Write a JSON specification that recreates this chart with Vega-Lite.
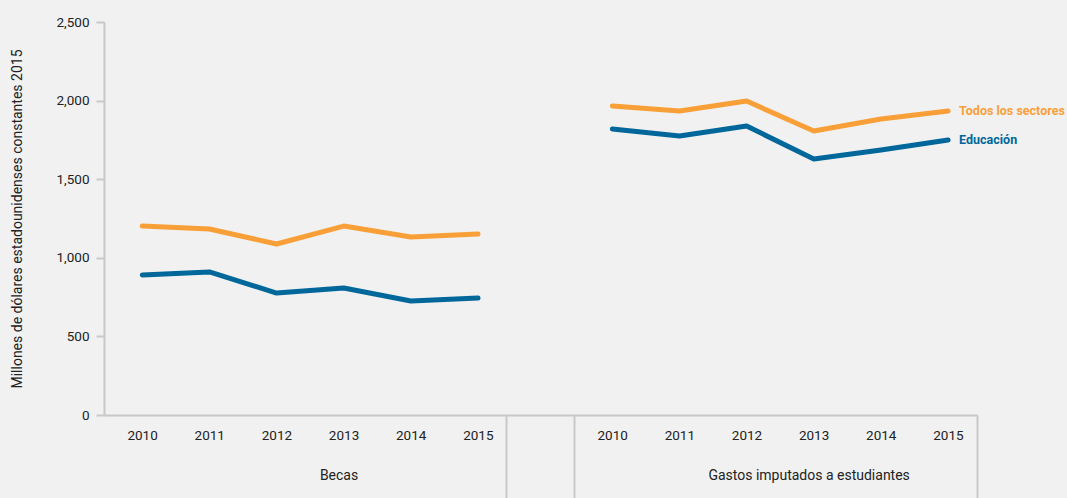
{
  "$schema": "https://vega.github.io/schema/vega-lite/v6.json",
  "width": 873,
  "height": 393,
  "autosize": {"type": "none"},
  "padding": {"left": 104, "top": 22, "right": 90, "bottom": 83},
  "background": "#f1f1f1",
  "config": {
    "view": {"stroke": null},
    "font": "Roboto",
    "axis": {"labelColor": "#222222", "titleColor": "#222222", "labelFontSize": 13.5, "titleFontSize": 14, "titleFontWeight": "normal", "labelOverlap": false, "labelFlush": false, "labelBound": false, "labelLimit": 400}
  },
  "data": {
    "values": [
      {"grupo": "Becas", "anio": "2010", "clave": "Becas 2010", "serie": "Todos los sectores", "valor": 1202},
      {"grupo": "Becas", "anio": "2011", "clave": "Becas 2011", "serie": "Todos los sectores", "valor": 1183},
      {"grupo": "Becas", "anio": "2012", "clave": "Becas 2012", "serie": "Todos los sectores", "valor": 1088},
      {"grupo": "Becas", "anio": "2013", "clave": "Becas 2013", "serie": "Todos los sectores", "valor": 1202},
      {"grupo": "Becas", "anio": "2014", "clave": "Becas 2014", "serie": "Todos los sectores", "valor": 1132},
      {"grupo": "Becas", "anio": "2015", "clave": "Becas 2015", "serie": "Todos los sectores", "valor": 1151},
      {"grupo": "Becas", "anio": "2010", "clave": "Becas 2010", "serie": "Educación", "valor": 891},
      {"grupo": "Becas", "anio": "2011", "clave": "Becas 2011", "serie": "Educación", "valor": 910},
      {"grupo": "Becas", "anio": "2012", "clave": "Becas 2012", "serie": "Educación", "valor": 776},
      {"grupo": "Becas", "anio": "2013", "clave": "Becas 2013", "serie": "Educación", "valor": 808},
      {"grupo": "Becas", "anio": "2014", "clave": "Becas 2014", "serie": "Educación", "valor": 725},
      {"grupo": "Becas", "anio": "2015", "clave": "Becas 2015", "serie": "Educación", "valor": 744},
      {"grupo": "Gastos", "anio": "2010", "clave": "Gastos 2010", "serie": "Todos los sectores", "valor": 1966},
      {"grupo": "Gastos", "anio": "2011", "clave": "Gastos 2011", "serie": "Todos los sectores", "valor": 1934},
      {"grupo": "Gastos", "anio": "2012", "clave": "Gastos 2012", "serie": "Todos los sectores", "valor": 1997},
      {"grupo": "Gastos", "anio": "2013", "clave": "Gastos 2013", "serie": "Todos los sectores", "valor": 1807},
      {"grupo": "Gastos", "anio": "2014", "clave": "Gastos 2014", "serie": "Todos los sectores", "valor": 1883},
      {"grupo": "Gastos", "anio": "2015", "clave": "Gastos 2015", "serie": "Todos los sectores", "valor": 1934},
      {"grupo": "Gastos", "anio": "2010", "clave": "Gastos 2010", "serie": "Educación", "valor": 1819},
      {"grupo": "Gastos", "anio": "2011", "clave": "Gastos 2011", "serie": "Educación", "valor": 1775},
      {"grupo": "Gastos", "anio": "2012", "clave": "Gastos 2012", "serie": "Educación", "valor": 1838},
      {"grupo": "Gastos", "anio": "2013", "clave": "Gastos 2013", "serie": "Educación", "valor": 1628},
      {"grupo": "Gastos", "anio": "2014", "clave": "Gastos 2014", "serie": "Educación", "valor": 1686},
      {"grupo": "Gastos", "anio": "2015", "clave": "Gastos 2015", "serie": "Educación", "valor": 1749}
    ]
  },
  "resolve": {"axis": {"x": "independent"}},
  "layer": [
    {
      "mark": {"type": "line", "strokeWidth": 5, "strokeCap": "round", "strokeJoin": "round"},
      "encoding": {
        "x": {
          "field": "clave", "type": "ordinal", "bandPosition": 0.57,
          "scale": {"type": "band", "paddingInner": 0, "paddingOuter": 0,
            "domain": ["Becas 2010", "Becas 2011", "Becas 2012", "Becas 2013", "Becas 2014", "Becas 2015", " ", "Gastos 2010", "Gastos 2011", "Gastos 2012", "Gastos 2013", "Gastos 2014", "Gastos 2015"]},
          "axis": {
            "orient": "bottom", "title": null, "labelOffset": 5,
            "labelExpr": "datum.value == ' ' ? '' : slice(datum.value, -4)", "labelAngle": 0, "labelPadding": 13,
            "ticks": false, "domain": true, "domainColor": "#c8c8c8", "domainWidth": 2, "grid": false
          }
        },
        "y": {
          "field": "valor", "type": "quantitative",
          "scale": {"domain": [0, 2500], "nice": false},
          "axis": {
            "title": "Millones de dólares estadounidenses constantes 2015",
            "values": [0, 500, 1000, 1500, 2000, 2500], "format": ",.0f", "grid": false,
            "tickSize": 8, "tickColor": "#c8c8c8", "tickWidth": 2,
            "domainColor": "#c8c8c8", "domainWidth": 2, "labelPadding": 7, "titlePadding": 31
          }
        },
        "color": {
          "field": "serie", "type": "nominal",
          "scale": {"domain": ["Todos los sectores", "Educación"], "range": ["#F99F38", "#00679A"]},
          "legend": null
        },
        "detail": {"field": "grupo"}
      }
    },
    {
      "transform": [{"filter": "datum.clave == 'Gastos 2015'"}],
      "mark": {"type": "text", "align": "left", "baseline": "middle", "dx": 11, "fontWeight": "bold", "fontSize": 12.5},
      "encoding": {
        "x": {
          "field": "clave", "type": "ordinal", "bandPosition": 0.57,
          "axis": {
            "orient": "bottom", "title": null,
            "values": ["Becas 2013", "Gastos 2013"], "bandPosition": 0,
            "labelExpr": "indexof(datum.value, 'Becas') == 0 ? 'Becas' : 'Gastos imputados a estudiantes'",
            "labelAngle": 0, "labelPadding": 53, "labelFontSize": 14, "ticks": false, "domain": false, "grid": false
          }
        },
        "y": {"field": "valor", "type": "quantitative"},
        "text": {"field": "serie"},
        "color": {"field": "serie", "type": "nominal"}
      }
    },
    {
      "mark": {"type": "line", "opacity": 0},
      "encoding": {
        "x": {
          "field": "clave", "type": "ordinal",
          "axis": {
            "orient": "bottom", "title": null,
            "values": ["Becas 2010", " ", "Gastos 2010"], "bandPosition": 0,
            "labels": false, "ticks": true, "tickSize": 84, "tickColor": "#c8c8c8", "tickWidth": 2,
            "domain": false, "grid": false
          }
        },
        "y": {"field": "valor", "type": "quantitative"},
        "detail": {"field": "serie"}
      }
    },
    {
      "mark": {"type": "line", "opacity": 0},
      "encoding": {
        "x": {
          "field": "clave", "type": "ordinal",
          "axis": {
            "orient": "bottom", "title": null,
            "values": ["Gastos 2015"], "bandPosition": 1,
            "labels": false, "ticks": true, "tickSize": 84, "tickColor": "#c8c8c8", "tickWidth": 2,
            "domain": false, "grid": false
          }
        },
        "y": {"field": "valor", "type": "quantitative"},
        "detail": {"field": "serie"}
      }
    }
  ]
}
